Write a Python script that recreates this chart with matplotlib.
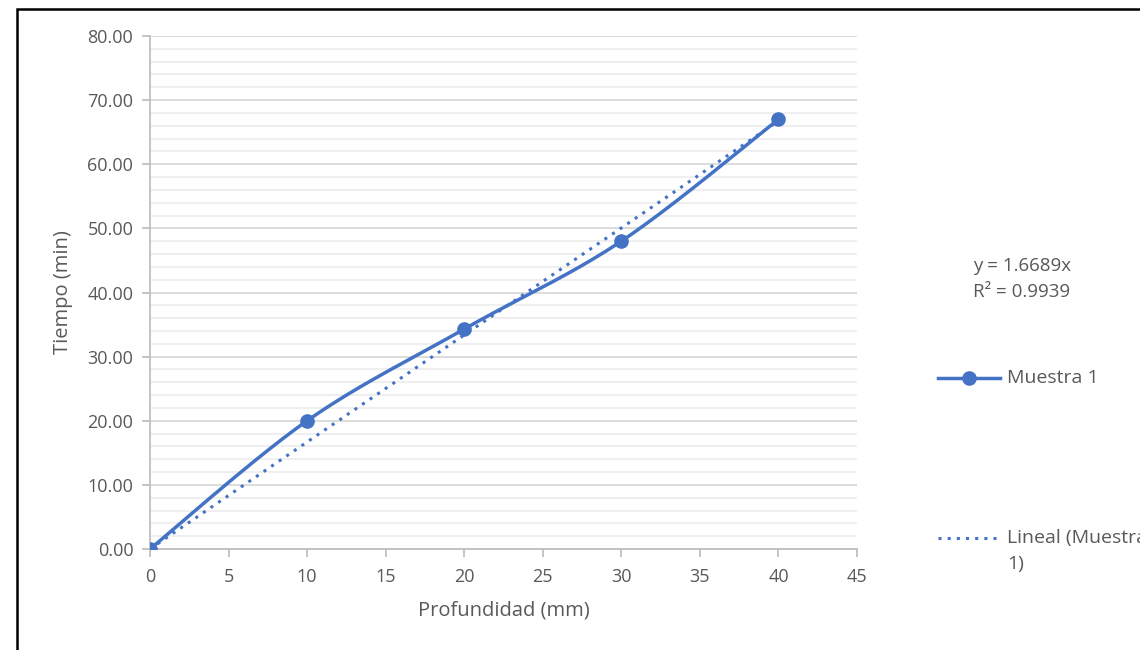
import numpy as np
import matplotlib
matplotlib.use("Agg")
import matplotlib.pyplot as plt
from matplotlib.patches import Rectangle
from matplotlib.lines import Line2D

depth = [0, 10, 20, 30, 40]
time_min = [0.0, 20.0, 34.3, 48.0, 67.0]
slope = 1.6689
r2 = 0.9939
series_name = "Muestra 1"
xlabel = "Profundidad (mm)"
ylabel = "Tiempo (min)"

blue = "#4472C4"
gray_txt = "#595959"
plt.rcParams['font.family'] = ['Open Sans', 'DejaVu Sans']

W, H = 1140, 650
fig = plt.figure(figsize=(W/100, H/100), dpi=100)
fig.patch.set_facecolor("white")
# outer frame
fig.patches.append(Rectangle((17/W, -0.1), 1.2, 1 - 9/H + 0.1, transform=fig.transFigure,
                             fill=False, edgecolor="black", linewidth=1.8))

ax = fig.add_axes([150/W, 1 - 549/H, (857-150)/W, (549-36)/H])
ax.set_xlim(0, 45)
ax.set_ylim(0, 80)
ax.set_xticks(np.arange(0, 46, 5))
ax.set_yticks(np.arange(0, 81, 10))
ax.set_yticklabels([f"{v:.2f}" for v in np.arange(0, 81, 10)])
ax.set_yticks(np.arange(0, 81, 2), minor=True)
ax.grid(True, which="major", axis="y", color="#d9d9d9", linewidth=1.3)
ax.grid(True, which="minor", axis="y", color="#ebebeb", linewidth=1.1)
ax.set_axisbelow(True)
for s in ["top", "right"]:
    ax.spines[s].set_visible(False)
for s in ["left", "bottom"]:
    ax.spines[s].set_color("#bfbfbf")
    ax.spines[s].set_linewidth(1.3)
ax.tick_params(axis="both", which="major", colors="#bfbfbf", labelcolor=gray_txt,
               labelsize=13, length=6, width=1.3)
ax.tick_params(axis="y", which="minor", length=0)
ax.tick_params(axis="x", pad=8)
ax.tick_params(axis="y", pad=6)
ax.set_xlabel(xlabel, color=gray_txt, fontsize=14.5, labelpad=10)
ax.set_ylabel(ylabel, color=gray_txt, fontsize=14.5, labelpad=10)

# trendline
xt = np.array([depth[0], depth[-1]], dtype=float)
ax.plot(xt, slope * xt, linestyle=(0, (1, 2)), color=blue, linewidth=2.2, zorder=3)

# smoothed series (Catmull-Rom in display space)
fig.canvas.draw()
pts = ax.transData.transform(np.column_stack([depth, time_min]))
P = np.vstack([pts[0], pts, pts[-1]])
curve = []
for i in range(1, len(P) - 2):
    p0, p1, p2, p3 = P[i-1], P[i], P[i+1], P[i+2]
    c1 = p1 + (p2 - p0) / 6
    c2 = p2 - (p3 - p1) / 6
    t = np.linspace(0, 1, 40)[:, None]
    seg = (1-t)**3*p1 + 3*(1-t)**2*t*c1 + 3*(1-t)*t**2*c2 + t**3*p2
    curve.append(seg)
curve = np.vstack(curve)
cd = ax.transData.inverted().transform(curve)
ax.plot(cd[:, 0], cd[:, 1], color=blue, linewidth=2.5, zorder=4, solid_capstyle="round")
ax.plot(depth, time_min, linestyle="none", marker="o", markersize=9.5, color=blue, zorder=5)

# equation
fig.text(973/W, 1 - 266/H, f"y = {slope:.4f}x", color=gray_txt, fontsize=13.5, va="center")
fig.text(973/W, 1 - 292/H, f"R² = {r2:.4f}", color=gray_txt, fontsize=13.5, va="center")

# legend (manual)
fig.add_artist(Line2D([938/W, 1000/W], [1 - 378/H]*2, color=blue, linewidth=2.5))
fig.add_artist(Line2D([969/W], [1 - 378/H], marker="o", markersize=9.5, color=blue))
fig.text(1007/W, 1 - 378/H, series_name, color=gray_txt, fontsize=14, va="center")
fig.add_artist(Line2D([938/W, 996/W], [1 - 538/H]*2, color=blue, linewidth=2.2, linestyle=(0, (1, 2))))
fig.text(1007/W, 1 - 538/H, f"Lineal ({series_name.split()[0]}", color=gray_txt, fontsize=14, va="center")
fig.text(1007/W, 1 - 564/H, "1)", color=gray_txt, fontsize=14, va="center")

fig.savefig("out.png", dpi=100, facecolor="white")
